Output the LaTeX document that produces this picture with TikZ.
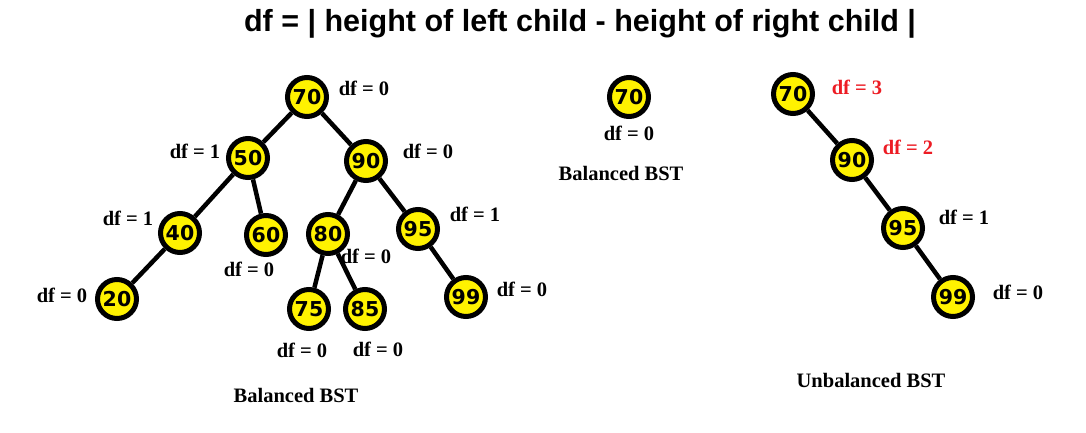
\documentclass[tikz,border=0pt]{standalone}
\usepackage{fontspec}
\setmainfont{Liberation Serif}
\newfontfamily\numfont{DejaVu Sans}
\newfontfamily\titlefont{Liberation Sans}
\definecolor{nodeyellow}{RGB}{255,242,0}
\definecolor{dfred}{RGB}{237,28,36}
\begin{document}
\begin{tikzpicture}[x=1pt,y=-1pt,
  bst/.style={circle,draw=black,fill=nodeyellow,line width=5pt,minimum size=39pt,inner sep=0pt,
    font=\numfont\bfseries\fontsize{20.5}{24}\selectfont},
  lbl/.style={inner sep=0pt,font=\bfseries\fontsize{20.5}{24}\selectfont},
  redlbl/.style={lbl,text=dfred},
  edge/.style={line width=4.5pt}]
\useasboundingbox (0,0) rectangle (1086,432);
\fill[white] (0,0) rectangle (1086,432);
\node[inner sep=0pt,font=\titlefont\bfseries\fontsize{30.5}{34}\selectfont] (title) at (580,24) {df = | height of left child - height of right child |};
% Left tree
\node[bst] (a70) at (307,97) {70};
\node[bst] (a50) at (248,158) {50};
\node[bst] (a90) at (366,161) {90};
\node[bst] (a40) at (180,233) {40};
\node[bst] (a60) at (266,235) {60};
\node[bst] (a80) at (328,234) {80};
\node[bst] (a95) at (418,229) {95};
\node[bst] (a20) at (117,299) {20};
\node[bst] (a75) at (309,309) {75};
\node[bst] (a85) at (365,309) {85};
\node[bst] (a99) at (466,297) {99};
\draw[edge] (a70) -- (a50);
\draw[edge] (a70) -- (a90);
\draw[edge] (a50) -- (a40);
\draw[edge] (a50) -- (a60);
\draw[edge] (a90) -- (a80);
\draw[edge] (a90) -- (a95);
\draw[edge] (a40) -- (a20);
\draw[edge] (a80) -- (a75);
\draw[edge] (a80) -- (a85);
\draw[edge] (a95) -- (a99);
\node[lbl] (l70) at (364,88) {df = 0};
\node[lbl] (l50) at (195,151) {df = 1};
\node[lbl] (l90) at (428,151) {df = 0};
\node[lbl] (l40) at (128,218) {df = 1};
\node[lbl] (l60) at (249,269) {df = 0};
\node[lbl] (l80) at (366,256) {df = 0};
\node[lbl] (l95) at (475,214) {df = 1};
\node[lbl] (l20) at (62,295) {df = 0};
\node[lbl] (l99) at (522,289) {df = 0};
\node[lbl] (l75) at (302,350) {df = 0};
\node[lbl] (l85) at (378,349) {df = 0};
\node[lbl] (capA) at (296,395) {Balanced BST};
% Middle tree
\node[bst] (b70) at (629,97) {70};
\node[lbl] (lb70) at (629,133) {df = 0};
\node[lbl] (capB) at (621,173) {Balanced BST};
% Right tree
\node[bst] (c70) at (793,94) {70};
\node[bst] (c90) at (852,160) {90};
\node[bst] (c95) at (903,228) {95};
\node[bst] (c99) at (953,297) {99};
\draw[edge] (c70) -- (c90);
\draw[edge] (c90) -- (c95);
\draw[edge] (c95) -- (c99);
\node[redlbl] (lc70) at (857,87) {df = 3};
\node[redlbl] (lc90) at (908,147) {df = 2};
\node[lbl] (lc95) at (964,217) {df = 1};
\node[lbl] (lc99) at (1018,292) {df = 0};
\node[lbl] (capC) at (871,380) {Unbalanced BST};
\end{tikzpicture}
\end{document}
